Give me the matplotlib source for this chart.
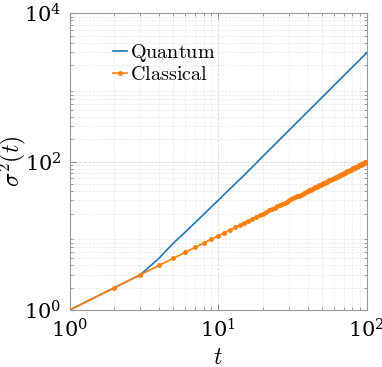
import matplotlib
matplotlib.use("Agg")
import matplotlib.pyplot as plt
import numpy as np

plt.rcParams['mathtext.fontset'] = 'cm'
plt.rcParams['font.family'] = 'serif'
plt.rcParams['font.serif'] = ['DejaVu Serif']

# Quantum walk variance
t_quantum = [1, 2, 3, 4, 5, 6, 7, 8, 9, 10, 12, 15, 20, 25, 30, 40, 50, 60, 70, 80, 90, 100]
var_quantum = [1, 2, 3, 5, 8, 11.2, 15.1, 19.5, 24.6, 30, 43, 66, 118, 184, 265, 470,
               734, 1056, 1437, 1876, 2374, 2930]

# Classical random walk variance, one point per step
t_classical = list(range(1, 101))
var_classical = [1, 2, 3, 4, 5, 6, 7, 8, 9, 10, 11, 12, 13, 14, 15, 16, 17, 18, 19, 20,
                 21, 22, 23, 24, 25, 26, 27, 28, 29, 30, 31, 32, 33, 34, 35, 36, 37, 38, 39, 40,
                 41, 42, 43, 44, 45, 46, 47, 48, 49, 50, 51, 52, 53, 54, 55, 56, 57, 58, 59, 60,
                 61, 62, 63, 64, 65, 66, 67, 68, 69, 70, 71, 72, 73, 74, 75, 76, 77, 78, 79, 80,
                 81, 82, 83, 84, 85, 86, 87, 88, 89, 90, 91, 92, 93, 94, 95, 96, 97, 98, 99, 100]

fig = plt.figure(figsize=(3.82, 3.67), dpi=100)
ax = fig.add_axes([0.182, 0.155, 0.778, 0.809])

ax.loglog(t_quantum, var_quantum, color='#1f77b4', lw=1.2, label=r'$\mathrm{Quantum}$')
ax.loglog(t_classical, var_classical, '.-', color='#ff7f0e', lw=1.2, ms=5,
          label=r'$\mathrm{Classical}$')

ax.set_xlim(1, 100)
ax.set_ylim(1, 1e4)
ax.set_yticks([1, 1e2, 1e4])
ax.set_xticks([1, 10, 100])

ax.grid(True, which='major', color='#d8d8d8', ls='--', lw=0.6)
ax.grid(True, which='minor', color='#e6e6e6', ls='--', lw=0.5)
ax.tick_params(which='both', direction='in', top=True, right=True, color='#888888')
ax.tick_params(which='major', length=4, labelsize=15, pad=6)
ax.tick_params(which='minor', length=2)
for s in ax.spines.values():
    s.set_color('#999999')
    s.set_linewidth(0.8)

ax.set_xlabel(r'$t$', fontsize=17)
ax.set_ylabel(r'$\sigma^2(t)$', fontsize=17)
ax.xaxis.set_label_coords(0.5, -0.12)
ax.yaxis.set_label_coords(-0.14, 0.5)

ax.legend(loc='upper left', bbox_to_anchor=(0.085, 0.965), frameon=False, fontsize=14.5,
          handlelength=0.7, handletextpad=0.15, labelspacing=0.05)

fig.savefig('out.png', dpi=100)
